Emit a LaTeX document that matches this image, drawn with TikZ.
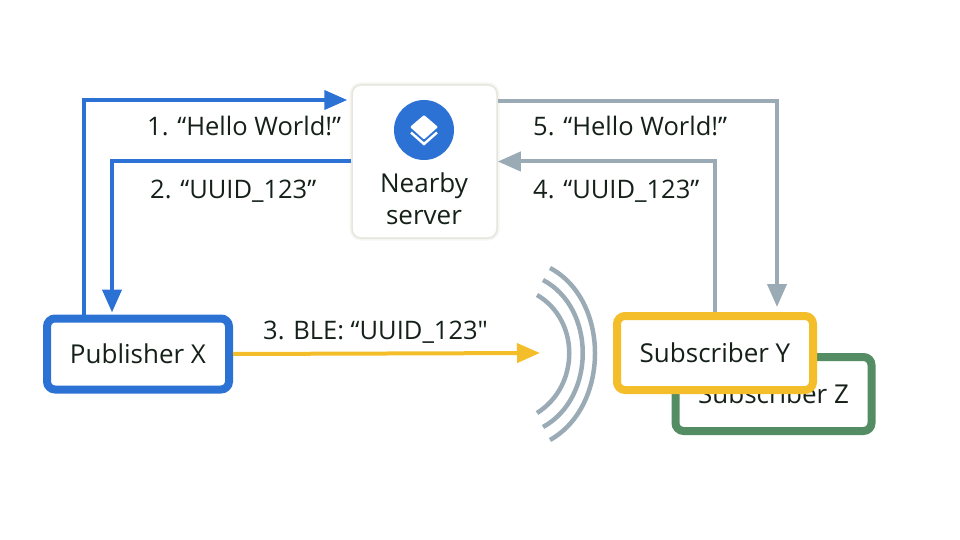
\documentclass[tikz,border=0pt]{standalone}
\usepackage{fontspec}
\setmainfont{Open Sans}[Ligatures=TeXOff]
\usetikzlibrary{arrows.meta}
\definecolor{pubblue}{RGB}{43,114,212}
\definecolor{subyellow}{RGB}{244,190,42}
\definecolor{subgreen}{RGB}{84,140,100}
\definecolor{linkgray}{RGB}{154,171,181}
\definecolor{serverline}{RGB}{230,230,222}
\definecolor{inktext}{RGB}{20,32,24}

\begin{document}
\begin{tikzpicture}[x=1pt, y=-1pt, every node/.style={text=inktext, font=\fontsize{26}{30}\selectfont}]
    \tikzstyle{client} = [rectangle, rounded corners=8pt, line width=8pt, fill=white, inner sep=0pt, minimum width=196pt, minimum height=74pt, text centered]
    \tikzstyle{server} = [rectangle, rounded corners=9pt, draw=serverline, line width=1.5pt, fill=white, preaction={draw=serverline!40, line width=5pt}, minimum width=145pt, minimum height=153pt]
    \tikzstyle{label} = [inner sep=0pt, anchor=west, font=\fontsize{25.5}{30}\selectfont]
    \tikzstyle{link} = [line width=4pt, -{Stealth[length=23pt, width=19pt, inset=0pt]}]

    \useasboundingbox (0,0) rectangle (960,540);

    % Boxes
    \node [client, draw=subgreen] (subz) at (773.5,394) {\raisebox{-1.5pt}{Subscriber Z}};
    \node [client, draw=subyellow] (suby) at (715,353) {\raisebox{-1.5pt}{Subscriber Y}};
    \node [client, draw=pubblue, minimum width=182pt, minimum height=71pt] (pub) at (138,354) {\raisebox{-1.5pt}{Publisher X}};

    % Nearby server with its icon
    \node [server] (server) at (424.5,161.5) {};
    \node [circle, fill=pubblue, minimum size=60pt, inner sep=0pt] (icon) at (424,130) {};
    \fill [white, rounded corners=1pt] (424,115) -- (438,127) -- (424,139.5) -- (410,127) -- cycle;
    \draw [white, line width=2.5pt] (411,132.5) -- (424,144) -- (437,132.5);
    \node (nearby) at (424,186) {Nearby};
    \node (serverlabel) at (424,218) {server};

    % Arrows
    \coordinate (waves) at (540,353);
    \draw [link, draw=pubblue, shorten >=4pt] ([xshift=-54pt]pub.north) |- ([yshift=61.5pt]server.west);
    \draw [link, draw=pubblue, shorten >=2pt] (server.west) -| ([xshift=-26pt]pub.north);
    \draw [link, draw=linkgray] (suby.north) |- (server.east);
    \draw [link, draw=linkgray, shorten >=5pt] ([yshift=60.5pt]server.east) -| ([xshift=62pt]suby.north);
    \draw [link, draw=subyellow] (pub.east) -- (waves);

    % Waves
    \foreach \xa/\ya/\xc/\ym/\yb in {550/268/610/300/440, 543/280/596/308/427, 537/295/580/320/413}
        \draw [linkgray, line width=4.5pt] (\xa,\ya) .. controls (\xc,\ym) and (\xc,706-\ym) .. (\xa,\yb);

    % Labels
    \node [label] (hello) at (147,126) {1. “Hello World!”};
    \node [label] (uuid) at (150,191) {2. “UUID\_123”};
    \node [label] (ble) at (263,332) {3. BLE: “UUID\_123"};
    \node [label] (uuidback) at (533,191) {4. “UUID\_123”};
    \node [label] (helloback) at (533,126) {5. “Hello World!”};
\end{tikzpicture}
\end{document}
